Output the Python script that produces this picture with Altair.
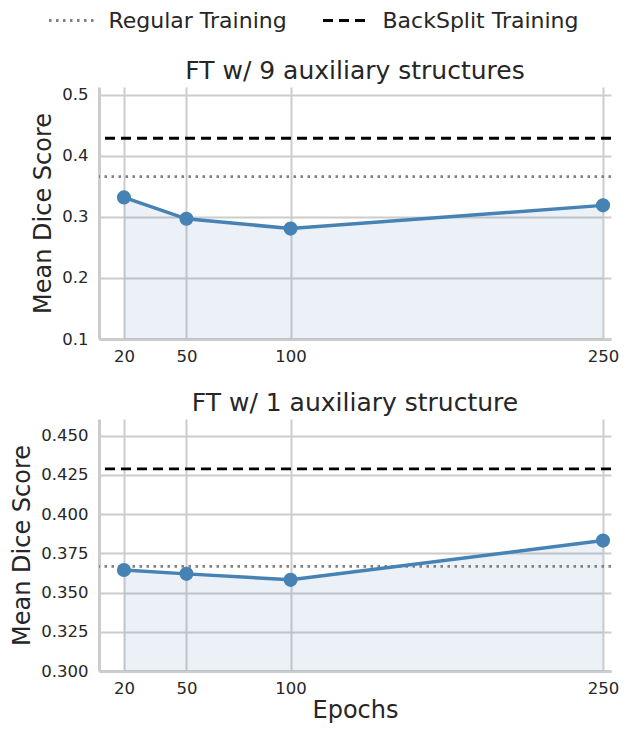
import altair as alt
import pandas as pd

epochs = [20, 50, 100, 250]
dice_9_aux = [0.332, 0.297, 0.281, 0.319]
dice_1_aux = [0.3644, 0.3619, 0.3581, 0.3831]
ref_names = ["Regular Training", "BackSplit Training"]
ref_9_aux = [0.366, 0.429]
ref_1_aux = [0.3667, 0.4288]
titles = ["FT w/ 9 auxiliary structures", "FT w/ 1 auxiliary structure"]
y_ticks_9 = [0.1, 0.2, 0.3, 0.4, 0.5]
y_ticks_1 = [0.300, 0.325, 0.350, 0.375, 0.400, 0.425, 0.450]

BLUE = "#4682b4"
TEXT = "#262626"


def panel(vals, refs, title, ydom, yticks, yfmt, xtitle):
    df = pd.DataFrame({"epoch": epochs, "dice": vals})
    rf = pd.DataFrame({"series": ref_names, "value": refs})
    x = alt.X("epoch:Q",
              scale=alt.Scale(domain=[8.02, 253.83], nice=False, zero=False),
              axis=alt.Axis(values=epochs, title=xtitle, labelPadding=9, titlePadding=2))
    y = alt.Y("dice:Q",
              scale=alt.Scale(domain=ydom, nice=False, zero=False),
              axis=alt.Axis(values=yticks, format=yfmt, title="Mean Dice Score",
                            labelPadding=11, titlePadding=6))
    area = alt.Chart(df).mark_area(color=BLUE, opacity=0.11).encode(
        x=x, y=y, y2=alt.datum(ydom[0]))
    legend = alt.Legend(title=None, orient="none", direction="horizontal",
                        legendX=-51.5, legendY=-90.5,
                        labelFontSize=22, labelColor=TEXT, labelLimit=0,
                        symbolType="stroke", symbolSize=2025,
                        symbolStrokeWidth=2.8, columnPadding=29,
                        labelOffset=13)
    rules = alt.Chart(rf).mark_rule(strokeWidth=2.8).encode(
        y=alt.Y("value:Q"),
        color=alt.Color("series:N",
                        scale=alt.Scale(domain=ref_names, range=["#808080", "#000000"]),
                        legend=legend),
        strokeDash=alt.StrokeDash("series:N",
                                  scale=alt.Scale(domain=ref_names,
                                                  range=[[2.5, 4.5], [10, 6]]),
                                  legend=legend),
    )
    line = alt.Chart(df).mark_line(color=BLUE, strokeWidth=3.5).encode(x=x, y=y)
    pts = alt.Chart(df).mark_circle(color=BLUE, size=200, opacity=1).encode(x=x, y=y)
    return alt.layer(area, rules, line, pts).properties(
        width=512, height=252, title=title)


top = panel(dice_9_aux, ref_9_aux, titles[0], [0.1, 0.513], y_ticks_9, ".1f", None)
bottom = panel(dice_1_aux, ref_1_aux, titles[1], [0.3, 0.4606], y_ticks_1, ".3f", "Epochs")

chart = alt.vconcat(top, bottom, spacing=26).properties(
    padding={"top": -12, "left": 2, "right": 0, "bottom": 0}
).configure(
    font="DejaVu Sans"
).configure_axis(
    grid=True, gridColor="#cccccc", gridWidth=2,
    domainColor="#cccccc", domainWidth=3, tickSize=0,
    labelFontSize=16.5, labelColor=TEXT,
    titleFontSize=24, titleColor=TEXT, titleFontWeight="normal",
).configure_title(
    fontSize=25, fontWeight="normal", color=TEXT, offset=3,
).configure_view(stroke=None)

chart.save("out.html", embed_options={"renderer": "svg", "actions": False})
